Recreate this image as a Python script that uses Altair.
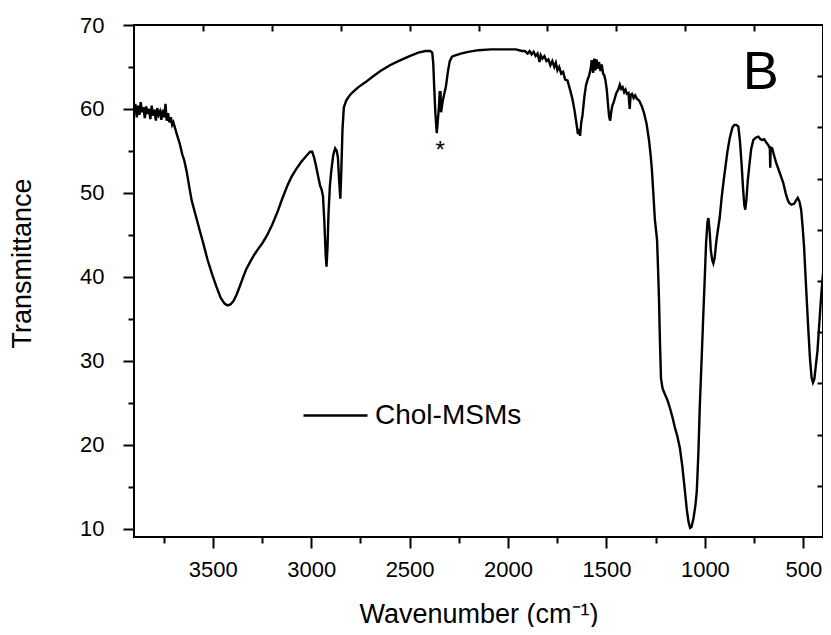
import altair as alt
import pandas as pd

# ---- spectrum (wavenumber in cm-1, transmittance) ----
wavenumber = [
    3900, 3893, 3886, 3879, 3872, 3866, 3859, 3852, 3845, 3838, 3831, 3824, 3817, 3810,
    3803, 3796, 3789, 3782, 3775, 3768, 3761, 3754, 3747, 3740, 3734, 3727, 3720, 3713,
    3706, 3700, 3690, 3680, 3668, 3655, 3645, 3632, 3620, 3607, 3590, 3567, 3546, 3526,
    3503, 3481, 3460, 3440, 3425, 3410, 3395, 3380, 3362, 3345, 3330, 3314, 3290, 3270,
    3248, 3225, 3198, 3170, 3147, 3120, 3100, 3077, 3050, 3025, 3005, 2995, 2985, 2976,
    2965, 2955, 2947, 2940, 2933, 2926, 2922, 2917, 2912, 2905, 2898, 2888, 2878, 2870,
    2864, 2858, 2852, 2847, 2841, 2834, 2822, 2808, 2794, 2760, 2723, 2690, 2650, 2600,
    2557, 2500, 2456, 2420, 2395, 2385, 2380, 2375, 2369, 2362, 2356, 2351, 2347, 2343,
    2340, 2333, 2325, 2316, 2305, 2296, 2285, 2279, 2240, 2203, 2150, 2087, 2040, 2000,
    1960, 1930, 1915, 1900, 1890, 1880, 1870, 1860, 1850, 1840, 1834, 1825, 1815, 1805,
    1795, 1785, 1775, 1765, 1757, 1749, 1740, 1730, 1720, 1710, 1698, 1685, 1673, 1662,
    1652, 1645, 1640, 1634, 1628, 1622, 1612, 1604, 1597, 1588, 1580, 1575, 1568, 1562,
    1557, 1550, 1545, 1538, 1530, 1524, 1517, 1511, 1505, 1498, 1492, 1486, 1481, 1476,
    1470, 1463, 1456, 1448, 1440, 1432, 1425, 1418, 1410, 1403, 1396, 1388, 1382, 1377,
    1370, 1362, 1354, 1345, 1334, 1320, 1309, 1296, 1284, 1276, 1269, 1262, 1254, 1248,
    1243, 1238, 1233, 1228, 1223, 1215, 1203, 1190, 1178, 1165, 1153, 1140, 1127, 1115,
    1102, 1092, 1083, 1075, 1068, 1058, 1048, 1041, 1033, 1026, 1016, 1008, 1001, 994,
    987, 982, 976, 970, 963, 957, 950, 942, 935, 925, 915, 905, 895, 885,
    873, 860, 850, 840, 830, 822, 814, 806, 800, 795, 789, 782, 774, 765,
    754, 740, 728, 718, 708, 698, 688, 678, 670, 668, 666, 658, 648, 637,
    620, 602, 590, 580, 572, 560, 547, 537, 528, 520, 511, 503, 496, 486,
    476, 466, 458, 451, 444, 436, 428, 420, 410, 400,
]
transmittance = [
    59.8, 60.6, 59.0, 60.4, 59.3, 60.8, 59.6, 60.2, 58.9, 60.3, 59.4, 60.0, 58.8, 60.4,
    59.2, 59.9, 58.6, 60.1, 59.3, 59.7, 58.7, 59.9, 59.0, 60.6, 58.6, 59.5, 58.4, 59.0,
    58.1, 58.4, 57.6, 56.8, 55.9, 54.6, 53.9, 52.5, 50.8, 49.1, 47.6, 45.6, 43.8, 42.0,
    40.3, 38.8, 37.5, 36.8, 36.6, 36.7, 37.1, 37.8, 38.9, 40.0, 40.9, 41.6, 42.6, 43.3,
    44.0, 44.9, 46.2, 47.8, 49.3, 50.9, 51.9, 52.8, 53.7, 54.4, 54.9, 54.9, 54.2, 53.3,
    52.0, 50.9, 50.4, 49.6, 46.5, 42.5, 41.2, 43.5, 47.5, 50.8, 52.6, 54.5, 55.3, 55.0,
    54.2, 51.5, 49.3, 52.5, 57.5, 60.2, 61.0, 61.5, 61.9, 62.6, 63.2, 63.8, 64.5, 65.2,
    65.7, 66.3, 66.7, 66.9, 66.9, 66.7, 65.5, 62.6, 59.5, 57.1, 58.8, 60.2, 62.0, 62.0,
    59.6, 60.8, 61.7, 62.6, 64.5, 65.7, 66.2, 66.3, 66.6, 66.8, 67.0, 67.1, 67.1, 67.1,
    67.1, 66.9, 66.9, 66.6, 66.9, 66.5, 66.8, 66.3, 66.6, 65.6, 66.4, 66.0, 66.3, 65.7,
    65.9, 65.2, 65.7, 65.0, 65.5, 64.6, 65.0, 64.2, 64.4, 63.5, 63.4, 62.3, 61.2, 59.8,
    58.2, 57.0, 57.6, 56.8, 58.4, 59.2, 61.5, 62.8, 63.4, 64.0, 64.8, 65.8, 64.3, 66.0,
    64.6, 65.9, 64.8, 65.6, 64.5, 65.3, 64.2, 64.0, 63.4, 62.2, 60.5, 59.0, 58.6, 59.6,
    60.4, 60.8, 61.4, 62.0, 62.3, 62.9, 62.4, 62.6, 62.0, 62.3, 61.8, 61.9, 60.0, 61.7,
    61.8, 61.3, 61.6, 61.2, 61.0, 60.3, 59.5, 58.2, 56.3, 54.6, 52.7, 50.0, 46.8, 45.5,
    44.4, 41.0, 37.2, 32.0, 27.9, 26.7, 26.0, 25.3, 24.4, 23.3, 22.1, 21.0, 19.6, 17.5,
    14.6, 12.3, 10.8, 10.1, 10.2, 11.2, 12.8, 14.5, 19.0, 24.5, 30.5, 35.5, 39.6, 44.0,
    46.5, 47.0, 45.5, 43.2, 42.0, 41.6, 42.3, 44.2, 45.4, 47.0, 49.4, 51.4, 53.2, 55.0,
    56.6, 57.8, 58.1, 58.1, 57.9, 56.2, 53.6, 50.5, 48.6, 48.0, 49.2, 51.5, 53.3, 55.2,
    56.3, 56.6, 56.7, 56.4, 56.3, 56.4, 56.0, 55.7, 55.3, 53.0, 55.4, 55.3, 54.4, 53.5,
    52.4, 51.2, 50.0, 49.2, 48.8, 48.6, 48.7, 49.1, 49.4, 49.0, 48.0, 45.8, 43.5, 38.8,
    34.3, 30.2, 28.0, 27.4, 27.8, 29.5, 31.2, 34.0, 37.5, 40.4,
]
series_name = ["Chol-MSMs"]

x_domain = [400, 3900]
y_domain = [9, 70]
x_tick_values = [3750, 3500, 3250, 3000, 2750, 2500, 2250, 2000, 1750, 1500, 1250, 1000, 750, 500]
y_tick_values = [10, 15, 20, 25, 30, 35, 40, 45, 50, 55, 60, 65, 70]
top_tick_values = [3550, 3200, 2850, 2500, 2150, 1800, 1450, 1100, 750]
right_tick_values = [15.1, 21.2, 27.3, 33.4, 39.5, 45.6, 51.7, 57.8, 63.9]

panel_label = ["B"]
panel_label_pos = [716, 62.4]
star_label = ["*"]
star_pos = [2345, 54.2]

FONT = "Liberation Sans"

df = pd.DataFrame({"Wavenumber": wavenumber, "Transmittance": transmittance,
                   "Sample": series_name[0]})

xs = alt.Scale(domain=x_domain, reverse=True, nice=False, zero=False)
ys = alt.Scale(domain=y_domain, nice=False, zero=False)

line = alt.Chart(df).mark_line(strokeWidth=2.4, clip=True).encode(
    x=alt.X("Wavenumber:Q", scale=xs, axis=alt.Axis(
        values=x_tick_values, format="d",
        labelExpr="datum.value % 500 == 0 ? datum.label : ''",
        tickSize={"condition": {"test": "datum.value % 500 != 0", "value": 6}, "value": 11},
        tickColor="black", tickWidth=2, domain=False, grid=False,
        labelFont=FONT, labelFontSize=22, labelColor="black", labelPadding=11,
        labelOverlap=False, labelFlush=False,
        title="Wavenumber (cm⁻¹)", titleFont=FONT, titleFontSize=27,
        titleFontWeight="normal", titleColor="black", titlePadding=21)),
    y=alt.Y("Transmittance:Q", scale=ys, axis=alt.Axis(
        values=y_tick_values,
        labelExpr="datum.value % 10 == 0 ? datum.label : ''",
        tickSize={"condition": {"test": "datum.value % 10 != 0", "value": 6}, "value": 11},
        tickColor="black", tickWidth=2, domain=False, grid=False,
        labelFont=FONT, labelFontSize=22, labelColor="black", labelPadding=19,
        labelOverlap=False, labelFlush=False,
        title="Transmittance", titleFont=FONT, titleFontSize=27,
        titleFontWeight="normal", titleColor="black", titlePadding=43, titleY=238)),
    color=alt.Color("Sample:N", scale=alt.Scale(range=["black"]), legend=alt.Legend(
        orient="none", legendX=168, legendY=357, title=None, padding=0,
        symbolType="stroke", symbolSize=4096, symbolStrokeWidth=2.4,
        labelFont=FONT, labelFontSize=28, labelColor="black", labelOffset=6)),
)

frame = alt.Chart(df).mark_line(opacity=0, clip=True).encode(
    x=alt.X("Wavenumber:Q", scale=xs, axis=alt.Axis(
        orient="top", values=top_tick_values, labels=False, tickSize=6, offset=-6,
        tickColor="black", tickWidth=2, domain=False, grid=False, title=None)),
    y=alt.Y("Transmittance:Q", scale=ys, axis=alt.Axis(
        orient="right", values=right_tick_values, labels=False, tickSize=6, offset=-6,
        tickColor="black", tickWidth=2, domain=False, grid=False, title=None)),
)

b_df = pd.DataFrame({"x": [panel_label_pos[0]], "y": [panel_label_pos[1]], "t": panel_label})
star_df = pd.DataFrame({"x": [star_pos[0]], "y": [star_pos[1]], "t": star_label})

b_text = alt.Chart(b_df).mark_text(font=FONT, fontSize=54, color="black",
                                   align="center", baseline="alphabetic").encode(
    x=alt.X("x:Q", scale=xs, axis=None), y=alt.Y("y:Q", scale=ys, axis=None), text="t:N")
star_text = alt.Chart(star_df).mark_text(font=FONT, fontSize=24, color="black",
                                         align="center", baseline="alphabetic").encode(
    x=alt.X("x:Q", scale=xs, axis=None), y=alt.Y("y:Q", scale=ys, axis=None), text="t:N")

chart = alt.layer(line, frame, b_text, star_text).resolve_axis(
    x="independent", y="independent"
).properties(
    width=689, height=512,
    autosize=alt.AutoSizeParams(type="none"),
    padding={"left": 126, "top": 17, "right": 0, "bottom": 90},
    background="white",
).configure_view(stroke="black", strokeWidth=2)

chart.save("out.html", embed_options={"renderer": "svg", "actions": False})
